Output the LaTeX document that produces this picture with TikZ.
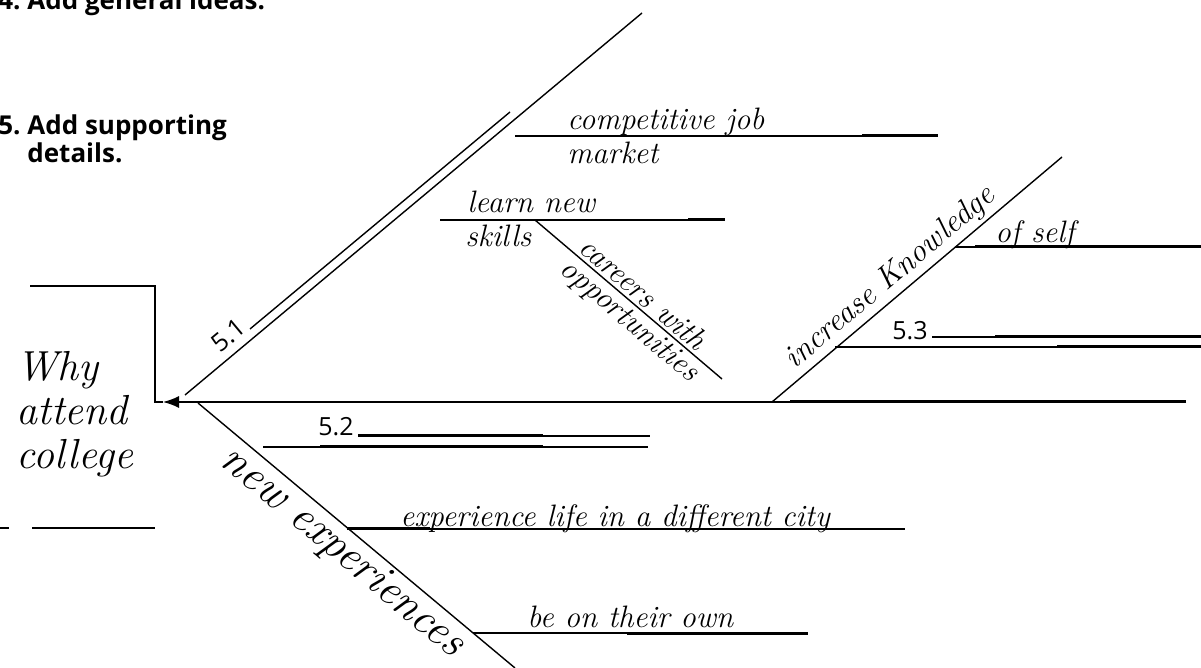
\documentclass[tikz,border=0pt]{standalone}
\usepackage{fontspec}
\usepackage{tikz}
\usetikzlibrary{arrows.meta}
\newfontfamily\headfont{Open Sans}
\tikzset{
  ink/.style={line width=0.6pt,black},
  inkbold/.style={line width=1.5pt,black},
  bone/.style={line width=0.7pt,black},
  spine/.style={line width=0.7pt,black,-{Latex[length=8pt,width=6pt]}},
  hand/.style={font=\fontsize{15.5}{17}\selectfont\itshape,inner sep=0pt},
  handbig/.style={font=\fontsize{21}{22}\selectfont\itshape,inner sep=0pt,align=left},
  % labels along the bones sit just off the line
  handslope/.style={hand,sloped,inner sep=1.5pt},
  numlab/.style={font=\headfont\fontsize{12.5}{14}\selectfont,inner sep=1pt},
  stephead/.style={font=\headfont\bfseries\fontsize{13}{12.5}\selectfont,inner sep=0pt,align=left},
}
\newcommand{\FishPoints}{%
  \coordinate (box1) at (30,286);   \coordinate (box2) at (155,286);
  \coordinate (box3) at (155,402);  \coordinate (head) at (163,402);
  \coordinate (boxb1) at (32,528);  \coordinate (boxb2) at (155,528);
  \coordinate (dash1) at (0,528);   \coordinate (dash2) at (9,528);
  \coordinate (tail) at (1186,402); \coordinate (spk) at (790,402);
  \coordinate (b1s) at (185,395);   \coordinate (b1e) at (642,13);
  \coordinate (l51s) at (250,329);  \coordinate (l51e) at (510,112);
  \coordinate (cj1) at (515,136);   \coordinate (cj2) at (938,136);  \coordinate (cjk) at (862,136);
  \coordinate (ln1) at (440,220);   \coordinate (ln2) at (725,220);  \coordinate (lnk) at (688,220);
  \coordinate (cw1) at (535,220);   \coordinate (cw2) at (722,379);
  \coordinate (k1) at (772,402);    \coordinate (k2) at (1062,157);
  \coordinate (os1) at (955,247);   \coordinate (os2) at (1201,247); \coordinate (osk) at (975,247);
  \coordinate (l53a) at (932,337);  \coordinate (l53b) at (1201,337); \coordinate (l53k) at (995,337);
  \coordinate (l53c) at (835,347);  \coordinate (l53d) at (1201,347); \coordinate (l53m) at (1057,347);
  \coordinate (n1) at (198,403);    \coordinate (n2) at (515,668);
  \coordinate (l52a) at (358,436);  \coordinate (l52b) at (650,436); \coordinate (l52k) at (543,436);
  \coordinate (l52c) at (263,447);  \coordinate (l52d) at (648,447); \coordinate (l52m) at (320,447);
  \coordinate (ex1) at (347,529);   \coordinate (ex2) at (905,529);  \coordinate (exk) at (430,529);
  \coordinate (bo1) at (473,633);   \coordinate (bo2) at (808,633);  \coordinate (bok) at (627,633);
}
\begin{document}
\begin{tikzpicture}[x=0.5pt,y=-0.5pt]
  \useasboundingbox (0,0) rectangle (1201,668);
  \FishPoints
  % problem box and spine
  \draw[ink] (box1) -- (box2) -- (box3) -- (head);
  \draw[ink] (boxb1) -- (boxb2); \draw[ink] (dash1) -- (dash2);
  \draw[spine] (tail) -- (head);
  \draw[inkbold] (spk) -- (tail);
  \node[handbig,anchor=north west] (why) at (16,351) {Why\\attend\\college};
  % steps
  \node[stephead,anchor=base west] (step4) at (-2,10) {4.\ Add general ideas.};
  \node[stephead,anchor=base west] (step5) at (-2,163) {5.\ Add supporting\\\hphantom{5.\ }details.};
  % upper bone
  \draw[bone] (b1s) -- (b1e);
  \draw[bone] (l51s) -- (l51e) node[numlab,pos=0,sloped,anchor=base east] (n51) {5.1};
  \draw[ink] (cj1) -- (cj2); \draw[inkbold] (cjk) -- (cj2);
  \node[hand,anchor=base west] (cjtop) at (567,130) {competitive job};
  \node[hand,anchor=base west] (cjbot) at (567,164) {market};
  \draw[ink] (ln1) -- (ln2); \draw[inkbold] (lnk) -- (ln2);
  \node[hand,anchor=base west] (lntop) at (467,213) {learn new};
  \node[hand,anchor=base west] (lnbot) at (465,247) {skills};
  \draw[bone] (cw1) -- (cw2)
    node[handslope,pos=0.53,above] (car) {careers with}
    node[handslope,pos=0.56,below] (opp) {opportunities};
  % right bone
  \draw[bone] (k1) -- (k2) node[handslope,pos=0.45,above,font=\fontsize{16}{18}\selectfont\itshape] (know) {increase Knowledge};
  \draw[ink] (os1) -- (os2); \draw[inkbold] (osk) -- (os2);
  \node[hand,anchor=base west] (self) at (995,243) {of self};
  \draw[ink] (l53a) -- (l53b); \draw[inkbold] (l53k) -- (l53b);
  \draw[ink] (l53c) -- (l53d); \draw[inkbold] (l53m) -- (l53d);
  \node[numlab,anchor=base east] (n53) at (930,340) {5.3};
  % lower bone
  \draw[bone] (n1) -- (n2) node[handslope,pos=0.5,below,font=\fontsize{22.5}{24}\selectfont\itshape] (newex) {new experiences};
  \draw[ink] (l52a) -- (l52b); \draw[inkbold] (l52a) -- (l52k);
  \draw[ink] (l52c) -- (l52d); \draw[inkbold] (l52m) -- (l52k |- l52c);
  \node[numlab,anchor=base east] (n52) at (356,436) {5.2};
  \draw[ink] (ex1) -- (ex2); \draw[inkbold] (ex1) -- (exk);
  \node[hand,anchor=base west] (city) at (400,526) {experience life in a different city};
  \draw[ink] (bo1) -- (bo2); \draw[inkbold] (bok) -- (bo2);
  \node[hand,anchor=base west] (own) at (527,627) {be on their own};
\end{tikzpicture}
\end{document}
